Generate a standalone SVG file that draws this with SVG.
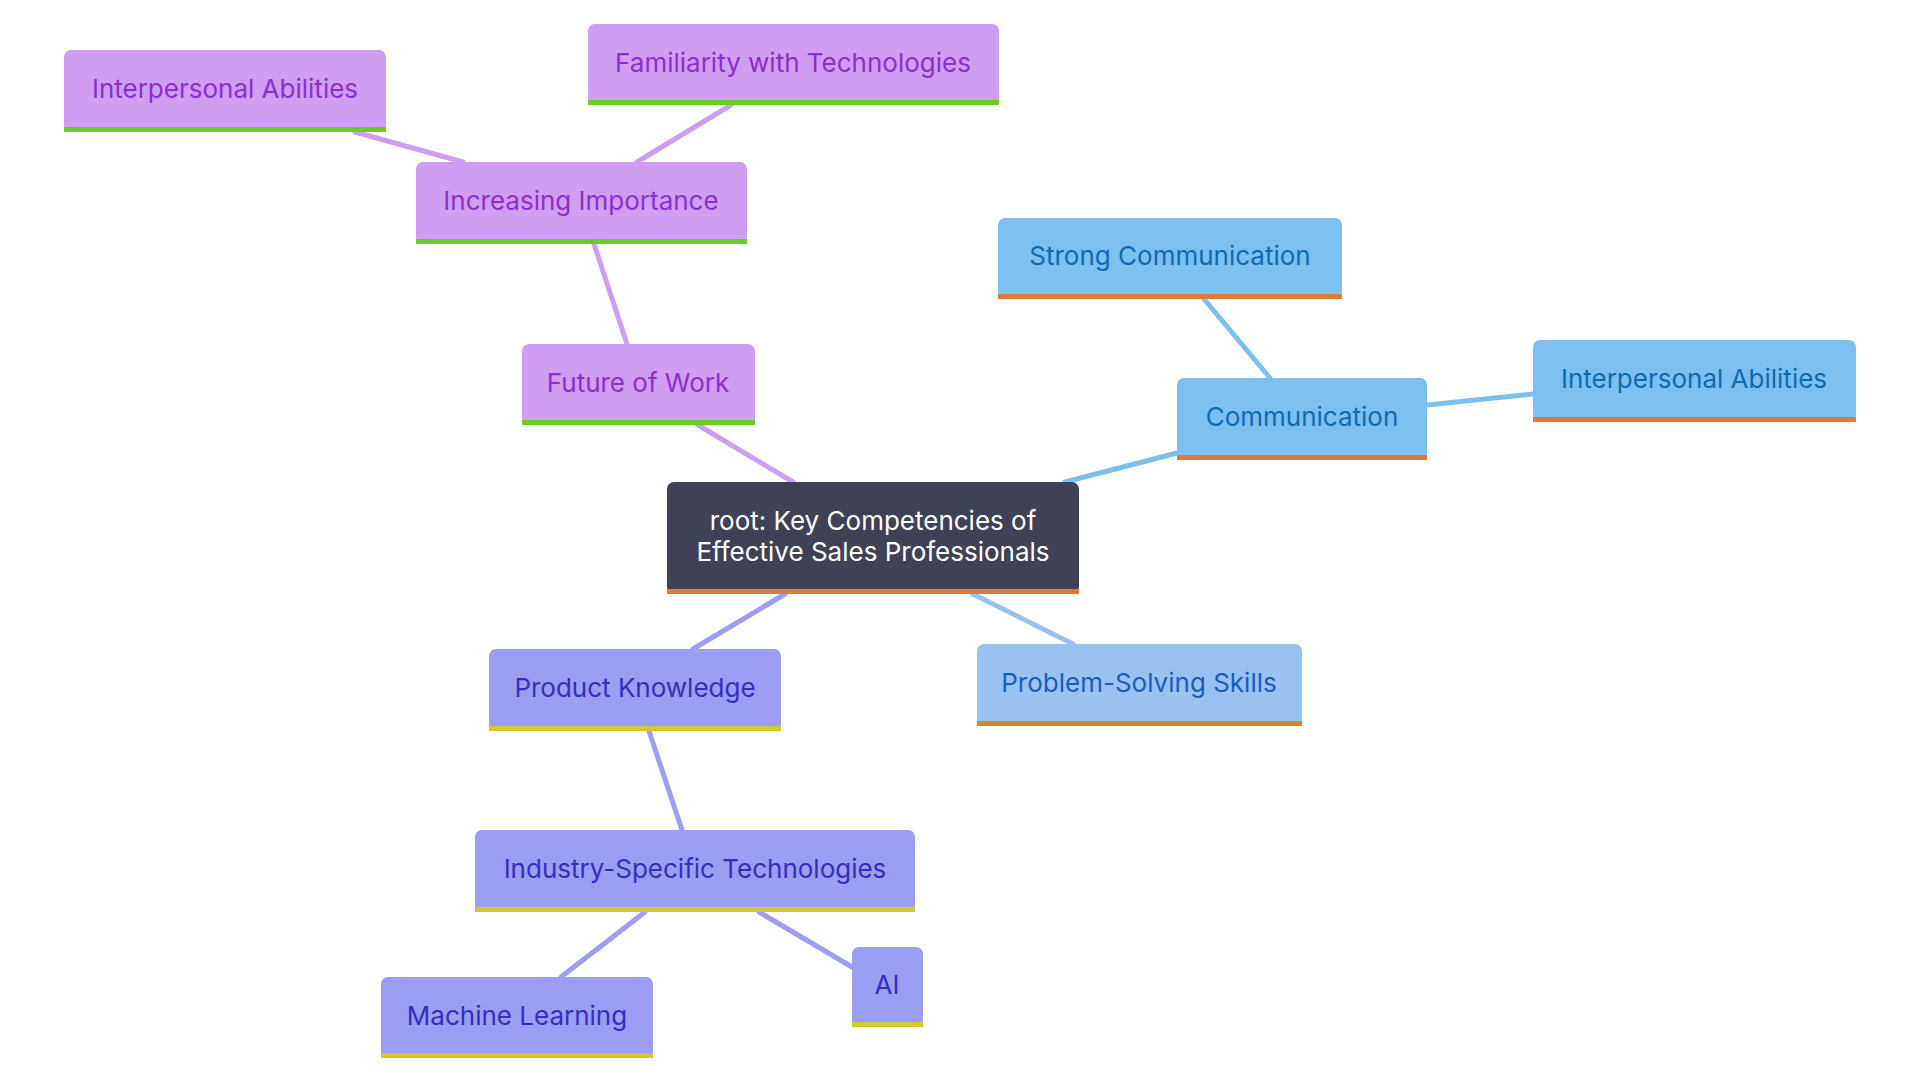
<svg xmlns="http://www.w3.org/2000/svg" width="1920" height="1080" viewBox="0 0 1920 1080">
<style>
text{font-family:Inter,"Noto Sans",sans-serif;font-size:26px;text-anchor:middle;dominant-baseline:central}
.p rect.b{fill:#CF9EF2}.p rect.u{fill:#6ACD27}.p text{fill:#8E2DD0}
.c rect.b{fill:#7CC0F2}.c rect.u{fill:#E07B39}.c text{fill:#0E6BB0}
.s rect.b{fill:#9AC2F0}.s rect.u{fill:#D4862A}.s text{fill:#1A5CC0}
.k rect.b{fill:#9B9EF2}.k rect.u{fill:#D4C72A}.k text{fill:#3030C0}
#edges line{stroke-width:5;stroke-linecap:round}
</style>
<rect width="1920" height="1080" fill="#fff"/>
<g id="edges">
<line x1="793" y1="482" x2="698" y2="425" stroke="#CF9EF2"/>
<line x1="627" y1="344" x2="594" y2="244" stroke="#CF9EF2"/>
<line x1="463" y1="162" x2="355" y2="132" stroke="#CF9EF2"/>
<line x1="637" y1="162" x2="731" y2="105" stroke="#CF9EF2"/>
<line x1="1065" y1="482" x2="1177" y2="453" stroke="#7CC0F2"/>
<line x1="1270" y1="378" x2="1204" y2="299" stroke="#7CC0F2"/>
<line x1="1427" y1="405" x2="1533" y2="394" stroke="#7CC0F2"/>
<line x1="973" y1="594" x2="1073" y2="644" stroke="#9AC2F0"/>
<line x1="785" y1="594" x2="693" y2="649" stroke="#9B9EF2"/>
<line x1="649" y1="731" x2="682" y2="830" stroke="#9B9EF2"/>
<line x1="645" y1="912" x2="561" y2="977" stroke="#9B9EF2"/>
<line x1="759" y1="912" x2="852" y2="967" stroke="#9B9EF2"/>
</g>
<g id="root"><rect x="667" y="482" width="412" height="112" rx="7" fill="#3F4257"/><rect x="667" y="589" width="412" height="5" fill="#E07B39"/><text x="873" y="520" fill="#fff">root: Key Competencies of</text><text x="873" y="551" fill="#fff">Effective Sales Professionals</text></g>
<g id="future" class="p"><rect class="b" x="522" y="344" width="233" height="81" rx="7"/><rect class="u" x="522" y="420" width="233" height="5"/><text x="638" y="382">Future of Work</text></g>
<g id="increasing" class="p"><rect class="b" x="416" y="162" width="331" height="82" rx="7"/><rect class="u" x="416" y="239" width="331" height="5"/><text x="581" y="200">Increasing Importance</text></g>
<g id="interp1" class="p"><rect class="b" x="64" y="50" width="322" height="82" rx="7"/><rect class="u" x="64" y="127" width="322" height="5"/><text x="225" y="88">Interpersonal Abilities</text></g>
<g id="famil" class="p"><rect class="b" x="588" y="24" width="411" height="81" rx="7"/><rect class="u" x="588" y="100" width="411" height="5"/><text x="793" y="62">Familiarity with Technologies</text></g>
<g id="comm" class="c"><rect class="b" x="1177" y="378" width="250" height="82" rx="7"/><rect class="u" x="1177" y="455" width="250" height="5"/><text x="1302" y="416">Communication</text></g>
<g id="strong" class="c"><rect class="b" x="998" y="218" width="344" height="81" rx="7"/><rect class="u" x="998" y="294" width="344" height="5"/><text x="1170" y="255">Strong Communication</text></g>
<g id="interp2" class="c"><rect class="b" x="1533" y="340" width="323" height="82" rx="7"/><rect class="u" x="1533" y="417" width="323" height="5"/><text x="1694" y="378">Interpersonal Abilities</text></g>
<g id="problem" class="s"><rect class="b" x="977" y="644" width="325" height="82" rx="7"/><rect class="u" x="977" y="721" width="325" height="5"/><text x="1139" y="682">Problem-Solving Skills</text></g>
<g id="product" class="k"><rect class="b" x="489" y="649" width="292" height="82" rx="7"/><rect class="u" x="489" y="726" width="292" height="5"/><text x="635" y="687">Product Knowledge</text></g>
<g id="industry" class="k"><rect class="b" x="475" y="830" width="440" height="82" rx="7"/><rect class="u" x="475" y="907" width="440" height="5"/><text x="695" y="868">Industry-Specific Technologies</text></g>
<g id="ml" class="k"><rect class="b" x="381" y="977" width="272" height="81" rx="7"/><rect class="u" x="381" y="1053" width="272" height="5"/><text x="517" y="1015">Machine Learning</text></g>
<g id="ai" class="k"><rect class="b" x="852" y="947" width="71" height="80" rx="7"/><rect class="u" x="852" y="1022" width="71" height="5"/><text x="887" y="984">AI</text></g>
</svg>
